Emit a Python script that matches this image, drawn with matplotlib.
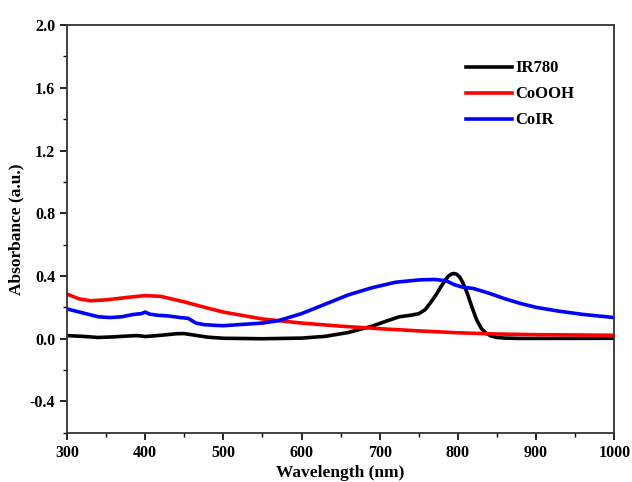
import matplotlib
matplotlib.use("Agg")
import matplotlib.pyplot as plt
from matplotlib.ticker import MultipleLocator

plt.rcParams['font.family'] = ['Liberation Serif', 'DejaVu Serif']
plt.rcParams['font.weight'] = 'bold'

ir_x = [300, 320, 340, 360, 380, 390, 400, 420, 440, 450, 460, 480, 500, 550, 600, 630, 660, 690, 710,
        725, 740, 750, 758, 765, 772, 778, 784, 788, 792, 795, 798, 802, 806, 812, 818, 824, 830, 836, 842, 850, 860, 880, 900, 1000]
ir_y = [0.02, 0.015, 0.008, 0.012, 0.018, 0.02, 0.014, 0.022, 0.032, 0.033, 0.025, 0.01, 0.003, 0.0, 0.004, 0.015, 0.04, 0.08, 0.115,
        0.14, 0.15, 0.16, 0.185, 0.23, 0.28, 0.33, 0.375, 0.4, 0.413, 0.416, 0.412, 0.395, 0.36, 0.29, 0.2, 0.12, 0.065, 0.035, 0.018, 0.008, 0.004, 0.002, 0.002, 0.003]

co_x = [300, 315, 330, 350, 380, 400, 420, 450, 480, 500, 550, 600, 650, 700, 750, 800, 850, 900, 1000]
co_y = [0.285, 0.255, 0.242, 0.248, 0.265, 0.275, 0.27, 0.235, 0.195, 0.17, 0.126, 0.1, 0.08, 0.064, 0.05, 0.038, 0.03, 0.026, 0.022]

coir_x = [300, 320, 340, 355, 370, 385, 395, 400, 405, 415, 430, 445, 455, 465, 475, 490, 500, 520, 550, 570,
          600, 630, 660, 690, 720, 750, 770, 785, 795, 805, 820, 840, 860, 880, 900, 930, 960, 1000]
coir_y = [0.19, 0.165, 0.14, 0.135, 0.14, 0.155, 0.16, 0.17, 0.158, 0.15, 0.145, 0.135, 0.13, 0.1, 0.09, 0.085, 0.083, 0.09, 0.1, 0.115,
          0.16, 0.22, 0.28, 0.325, 0.36, 0.375, 0.378, 0.37, 0.345, 0.33, 0.32, 0.29, 0.255, 0.225, 0.2, 0.175, 0.155, 0.135]

fig = plt.figure(figsize=(6.32, 4.82), dpi=100)
ax = fig.add_axes([0.106, 0.102, 0.866, 0.846])

ax.plot(ir_x, ir_y, color='black', lw=2.6, label='IR780')
ax.plot(co_x, co_y, color='#ff0000', lw=2.6, label='CoOOH')
ax.plot(coir_x, coir_y, color='#0000ff', lw=2.6, label='CoIR')

ax.set_xlim(300, 1000)
ax.set_ylim(-0.6, 2.0)
ax.xaxis.set_major_locator(MultipleLocator(100))
ax.xaxis.set_minor_locator(MultipleLocator(50))
ax.yaxis.set_minor_locator(MultipleLocator(0.2))
ax.set_yticks([-0.4, 0.0, 0.4, 0.8, 1.2, 1.6, 2.0])
ax.set_yticklabels(['-0.4', '0.0', '0.4', '0.8', '1.2', '1.6', '2.0'])
ax.tick_params(which='major', direction='out', length=5, width=1.2, labelsize=11.5)
ax.tick_params(which='minor', direction='out', length=3, width=1.0)
for lab in ax.get_xticklabels() + ax.get_yticklabels():
    lab.set_fontweight('bold')
for s in ax.spines.values():
    s.set_linewidth(1.3)
    s.set_color('#333333')

ax.set_xlabel('Wavelength (nm)', fontsize=12.5, fontweight='bold', labelpad=3)
ax.set_ylabel('Absorbance (a.u.)', fontsize=12.5, fontweight='bold', labelpad=4)

leg = ax.legend(loc='upper right', bbox_to_anchor=(0.955, 0.95), frameon=False,
                prop={'weight': 'bold', 'size': 12}, handlelength=2.8, handletextpad=0.2,
                labelspacing=0.6)

fig.savefig('out.png', dpi=100)
